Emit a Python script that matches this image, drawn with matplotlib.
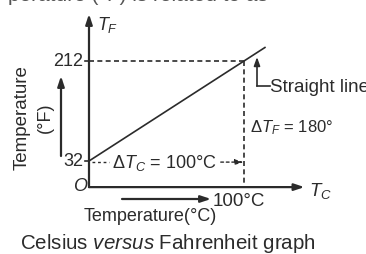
import numpy as np
import matplotlib.pyplot as plt

# data: Celsius vs Fahrenheit
celsius = [0, 100]
fahrenheit = [32, 212]
line_end_c = 113.5          # how far the drawn line runs past 100 °C
origin_f = -15              # schematic origin sits a bit below 32 °F
tick_labels = ['32', '212']

W, H = 366, 255
plt.rcParams['font.family'] = ['Liberation Sans', 'DejaVu Sans']
plt.rcParams['mathtext.fontset'] = 'custom'
plt.rcParams['mathtext.rm'] = 'Liberation Sans'
plt.rcParams['mathtext.it'] = 'Liberation Sans:italic'
fig = plt.figure(figsize=(W / 100, H / 100), dpi=100)
ink = '#2b2b2b'

# axes mapped so that 1 °C = 1.55 px and 1 °F = 1/1.8 px
ax = fig.add_axes([0, 0, 1, 1])
ax.set_xlim(-89 / 1.55, (W - 89) / 1.55)
ax.set_ylim(212 - (H - 62) * 1.8, 212 + 62 * 1.8)
ax.axis('off')


def px(x, y):
    return (x / W, 1 - y / H)


# linear relation from the two fixed points
slope = (fahrenheit[1] - fahrenheit[0]) / (celsius[1] - celsius[0])
xs = np.array([celsius[0], line_end_c])
ax.plot(xs, fahrenheit[0] + slope * xs, color=ink, lw=1.2)

# axes with arrows
arr = dict(arrowstyle='-|>,head_length=0.6,head_width=0.2', color=ink, lw=1.6,
           shrinkA=0, shrinkB=0)
ax.annotate('', xy=(0, 212 + 47 * 1.8), xytext=(0, origin_f), arrowprops=arr)
ax.annotate('', xy=(139, origin_f), xytext=(0, origin_f), arrowprops=arr)

# dashed guides
ax.plot([0, celsius[1]], [fahrenheit[1]] * 2, color=ink, lw=1.2, ls=(0, (3, 2)))
ax.plot([celsius[1]] * 2, [fahrenheit[1], origin_f], color=ink, lw=1.2, ls=(0, (3, 2)))

# tick marks and labels
for f, lab in zip(fahrenheit, tick_labels):
    ax.plot([-2.5, 0], [f, f], color=ink, lw=1.2)
    ax.text(-3.5, f, lab, ha='right', va='center', fontsize=13, color=ink)
ax.text(-1.5, origin_f + 3, 'O', ha='right', va='center', fontsize=13,
        color=ink, style='italic')

# delta T_C dashed arrow
darr = dict(arrowstyle='-|>,head_length=0.5,head_width=0.15', color=ink, lw=1.0,
            ls=(0, (2, 2)), shrinkA=0, shrinkB=0)
ax.annotate('', xy=(celsius[1], fahrenheit[0] - 2), xytext=(85, fahrenheit[0] - 2),
            arrowprops=darr)
ax.plot([2, 13], [fahrenheit[0] - 2] * 2, color=ink, lw=1.0, ls=(0, (2, 2)))
ax.text(*px(164, 163), r'$\Delta T_C$ = 100°C', transform=fig.transFigure,
        ha='center', va='center', fontsize=13, color=ink)

# delta T_F label
ax.text(*px(250, 128), r'$\Delta T_F$ = 180°', transform=fig.transFigure,
        ha='left', va='center', fontsize=12, color=ink)

# axis names
ax.text(*px(97, 25), r'$T_F$', transform=fig.transFigure, ha='left',
        va='center', fontsize=13, color=ink)
ax.text(*px(309, 191), r'$T_C$', transform=fig.transFigure, ha='left',
        va='center', fontsize=13.5, color=ink)

# straight line callout
ax.annotate('', xy=(257 / 1.55 - 89 / 1.55, 212 - (58 - 62) * 1.8),
            xytext=(257 / 1.55 - 89 / 1.55, 212 - (87 - 62) * 1.8),
            arrowprops=dict(arrowstyle='-|>,head_length=0.5,head_width=0.18',
                            color=ink, lw=1.2, shrinkA=0, shrinkB=0))
ax.plot([257 / 1.55 - 89 / 1.55, 270 / 1.55 - 89 / 1.55],
        [212 - 25 * 1.8] * 2, color=ink, lw=1.2)
ax.text(*px(270, 87), 'Straight line', transform=fig.transFigure,
        ha='left', va='center', fontsize=13.5, color=ink)

# y axis title with arrow
ax.text(*px(22, 118), 'Temperature', transform=fig.transFigure, rotation=90,
        ha='center', va='center', fontsize=13.5, color=ink)
ax.text(*px(45, 118), '(°F)', transform=fig.transFigure, rotation=90,
        ha='center', va='center', fontsize=13, color=ink)
ax.annotate('', xy=px(61, 77), xytext=px(61, 157), xycoords='figure fraction',
            textcoords='figure fraction', arrowprops=arr)

# x axis title with arrow
ax.annotate('', xy=px(211, 200), xytext=px(122, 200), xycoords='figure fraction',
            textcoords='figure fraction', arrowprops=arr)
ax.text(*px(213, 202), '100°C', transform=fig.transFigure, ha='left',
        va='center', fontsize=13.5, color=ink)
ax.text(*px(150, 217), 'Temperature(°C)', transform=fig.transFigure,
        ha='center', va='center', fontsize=13, color=ink)

# caption and clipped line above
ax.text(*px(168, 244), 'Celsius $\\it{versus}$ Fahrenheit graph', transform=fig.transFigure,
        ha='center', va='center', fontsize=14.8, color=ink)
ax.text(*px(8, 1), 'perature (°F) is related to as', transform=fig.transFigure,
        ha='left', va='baseline', fontsize=15, color='#555555')

fig.savefig('out.png', dpi=100)
